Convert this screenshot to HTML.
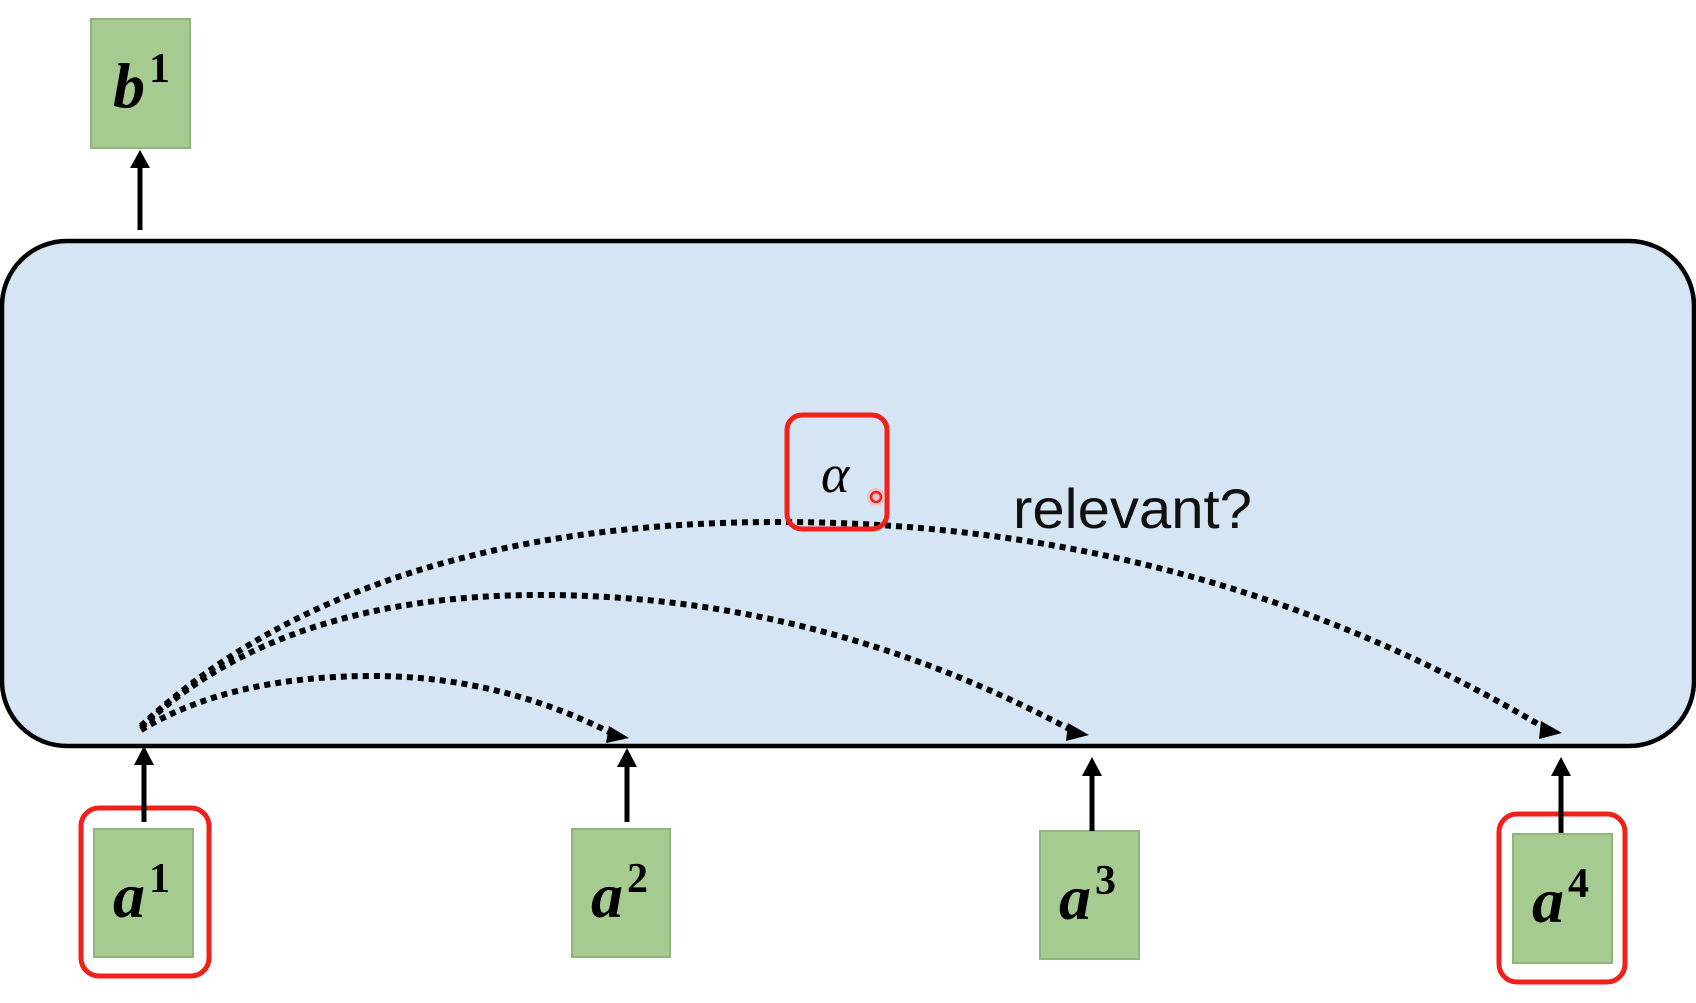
<!DOCTYPE html>
<html><head><meta charset="utf-8"><style>
html,body{margin:0;padding:0;background:#fff;width:1696px;height:1003px;overflow:hidden}
svg{display:block}
</style></head><body>
<svg width="1696" height="1003" viewBox="0 0 1696 1003" xmlns="http://www.w3.org/2000/svg">
<!-- big box -->
<rect x="2" y="241" width="1692" height="505" rx="65" ry="65" fill="#d5e5f3" stroke="#000" stroke-width="4.5"/>
<!-- b1 -->
<rect x="91" y="19" width="99" height="129" fill="#a6cb91" stroke="#8fb57c" stroke-width="2"/>
<text x="113" y="107" font-family="Liberation Serif, serif" font-weight="bold" font-style="italic" font-size="64">b</text>
<text x="149" y="82" font-family="Liberation Serif, serif" font-weight="bold" font-size="42">1</text>
<line x1="140" y1="230" x2="140" y2="162" stroke="#000" stroke-width="5"/>
<path d="M130,168 L140,150 L150,168 z" fill="#000"/>
<!-- green boxes -->
<g font-family="Liberation Serif, serif" font-weight="bold">
<rect x="94" y="829" width="99" height="128" fill="#a6cb91" stroke="#8fb57c" stroke-width="2"/>
<text x="113" y="917" font-style="italic" font-size="64">a</text><text x="149" y="892" font-size="42">1</text>
<rect x="572" y="829" width="98" height="128" fill="#a6cb91" stroke="#8fb57c" stroke-width="2"/>
<text x="591" y="917" font-style="italic" font-size="64">a</text><text x="627" y="892" font-size="42">2</text>
<rect x="1040" y="831" width="99" height="128" fill="#a6cb91" stroke="#8fb57c" stroke-width="2"/>
<text x="1059" y="919" font-style="italic" font-size="64">a</text><text x="1095" y="894" font-size="42">3</text>
<rect x="1513" y="834" width="99" height="129" fill="#a6cb91" stroke="#8fb57c" stroke-width="2"/>
<text x="1532" y="922" font-style="italic" font-size="64">a</text><text x="1568" y="897" font-size="42">4</text>
</g>
<!-- red outlines -->
<rect x="81" y="808" width="128" height="168" rx="18" fill="none" stroke="#f0201a" stroke-width="5"/>
<rect x="1499" y="814" width="126" height="168" rx="18" fill="none" stroke="#f0201a" stroke-width="5"/>
<!-- up arrows -->
<g stroke="#000" stroke-width="5">
<line x1="144" y1="822" x2="144" y2="760"/>
<line x1="627" y1="822" x2="627" y2="762"/>
<line x1="1092" y1="831" x2="1092" y2="772"/>
<line x1="1561" y1="833" x2="1561" y2="772"/>
</g>
<g fill="#000">
<path d="M134,765 L144,746 L154,765 z"/>
<path d="M617,767 L627,748 L637,767 z"/>
<path d="M1082,776 L1092,757 L1102,776 z"/>
<path d="M1551,776 L1561,757 L1571,776 z"/>
</g>
<!-- dotted curves -->
<g fill="none" stroke="#000" stroke-width="6" stroke-dasharray="6 5">
<path d="M141,730 Q230,676 373,676 Q500,676 615,735"/>
<path d="M141,728 Q280,595 541,595 Q820,595 1075,732"/>
<path d="M141,726 Q360,522 779,522 Q1200,522 1548,730"/>
</g>
<g fill="#000">
<path d="M609,726 L629,738 L606,743 z"/>
<path d="M1068,723 L1089,735 L1066,741 z"/>
<path d="M1541,721 L1562,733 L1539,739 z"/>
</g>
<!-- alpha -->
<rect x="787" y="415" width="100" height="114" rx="15" fill="none" stroke="#f0201a" stroke-width="5"/>
<text x="821" y="492" font-family="Liberation Serif, serif" font-style="italic" font-size="54">α</text>
<circle cx="876" cy="497" r="9" fill="#f7b5b2" opacity="0.7"/>
<circle cx="876" cy="497" r="5" fill="none" stroke="#f0201a" stroke-width="2.5"/>
<text x="1013" y="528" font-family="Liberation Sans, sans-serif" font-size="56" fill="#111" textLength="239" lengthAdjust="spacingAndGlyphs">relevant?</text>
</svg>
</body></html>
